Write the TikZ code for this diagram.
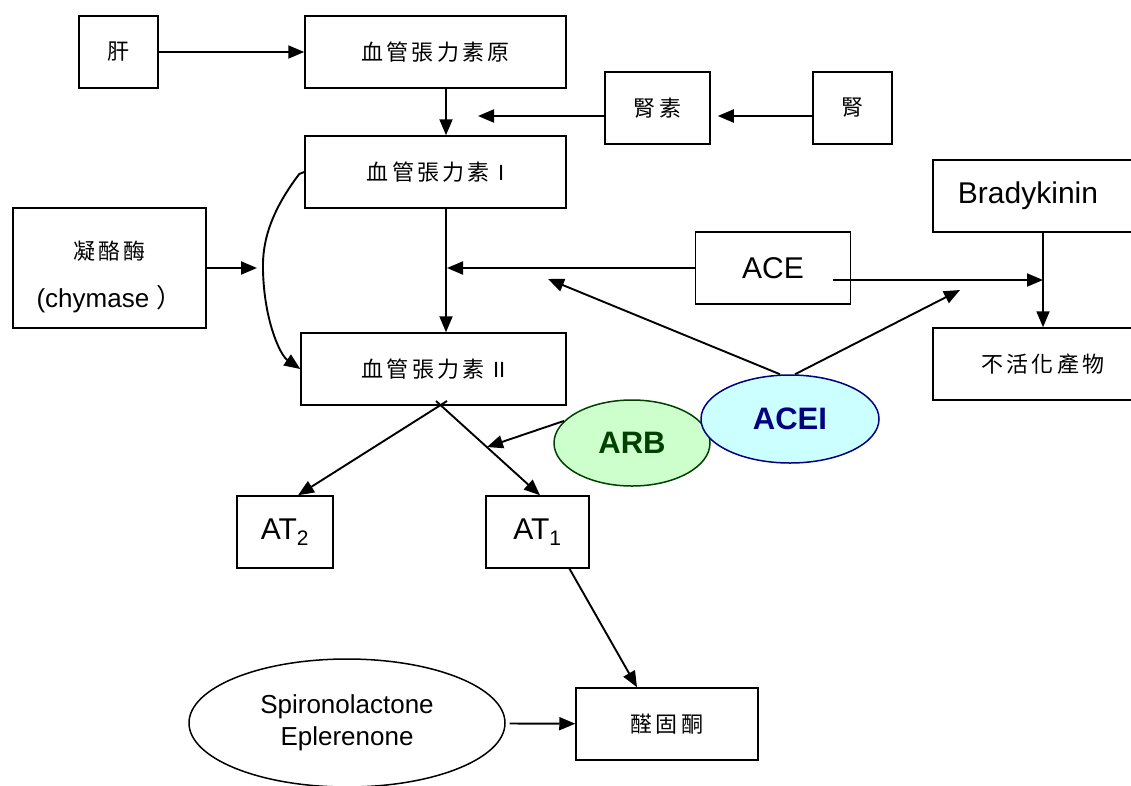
\documentclass[tikz,border=0pt]{standalone}
\usepackage{fontspec}
\setmainfont{Liberation Sans}
\newfontfamily\cjk[LetterSpace=15]{Noto Sans CJK TC}
\usetikzlibrary{shapes.geometric,arrows.meta,positioning}
\definecolor{ArbGreen}{RGB}{204,255,204}
\definecolor{ArbDark}{RGB}{0,64,0}
\definecolor{AceiCyan}{RGB}{204,255,255}
\definecolor{AceiNavy}{RGB}{0,0,128}

\begin{document}
\begin{tikzpicture}[x=1pt,y=-1pt,
    box/.style={rectangle,draw,line width=1.5pt,minimum height=72pt,inner sep=0pt},
    cjktext/.style={font=\cjk\fontsize{22}{26}\selectfont},
    latin/.style={font=\fontsize{30}{34}\selectfont},
    arr/.style={-{Triangle[length=16pt,width=13pt]},line width=1.9pt}]
    \useasboundingbox (0,0) rectangle (1131,785);

    \node[box,cjktext,minimum width=79pt] (liver) at (118.5,52) {肝};
    \node[box,cjktext,minimum width=261pt] (angen) at (435.5,52) {血管張力素原};
    \node[box,cjktext,minimum width=105pt] (renin) at (657.5,108) {腎素};
    \node[box,cjktext,minimum width=79pt] (kidney) at (852.5,108) {腎};
    \node[box,cjktext,minimum width=261pt] (ang1) at (435.5,172) {血管張力素 {\normalfont\fontsize{22}{26}\selectfont I}};
    \node[box,minimum width=193pt,minimum height=120pt,align=center,font=\fontsize{26}{48}\selectfont] (chymase) at (109.5,268)
        {\rule{0pt}{36pt}{\cjk\fontsize{22}{26}\selectfont 凝酪酶}\\(chymase {\cjk ）}};
    \node[box,cjktext,minimum width=265pt] (ang2) at (433.5,369) {血管張力素 {\normalfont\fontsize{22}{26}\selectfont II}};
    \node[box,latin,minimum width=155pt] (ace) at (773,268) {ACE};
    \node[box,latin,minimum width=220pt] (brady) at (1043,196) {Bradykinin\hspace*{30pt}};
    \node[box,cjktext,minimum width=220pt] (inactive) at (1043,364) {不活化產物};
    \node[box,latin,minimum width=96pt] (at2) at (285,532) {AT\textsubscript{2}};
    \node[box,latin,minimum width=103pt] (at1) at (537.5,532) {AT\textsubscript{1}};
    \node[box,cjktext,minimum width=182pt] (aldo) at (667,724) {醛固酮};
    \node[ellipse,draw,line width=1.5pt,minimum width=316pt,minimum height=128pt,inner sep=0pt,
          align=center,font=\fontsize{26}{32}\selectfont] (spiro) at (347,723) {Spironolactone\\Eplerenone};
    \node[ellipse,draw=ArbDark,fill=ArbGreen,line width=1.5pt,minimum width=156pt,minimum height=86pt,
          inner sep=0pt,text=ArbDark,font=\bfseries\fontsize{31}{35}\selectfont] (arb) at (632,443) {ARB};
    \node[ellipse,draw=AceiNavy,fill=AceiCyan,line width=1.5pt,minimum width=178pt,minimum height=88pt,
          inner sep=0pt,text=AceiNavy,font=\bfseries\fontsize{31}{35}\selectfont] (acei) at (790,419) {ACEI};

    \coordinate (reninend) at (478,116);
    \coordinate (chymend) at (257,268);
    \coordinate (acejoin) at (447,268);
    \coordinate (acestart) at (833,280);
    \coordinate (bkjoin) at (1043,280);
    \coordinate (aceiup) at (548,279);
    \coordinate (aceiright) at (960,290);
    \coordinate (arbend) at (487,447);
    \coordinate (splitA) at (447,401);
    \coordinate (splitB) at (436,401);

    \draw[arr] (liver) -- (angen);
    \draw[arr] ([xshift=10.5pt]angen.south) -- ([xshift=10.5pt]ang1.north);
    \draw[arr,shorten >=7pt] ([yshift=-8pt]kidney.west) -- ([yshift=-8pt]renin.east);
    \draw[arr] ([yshift=-8pt]renin.west) -- (reninend);
    \draw[arr] ([xshift=10.5pt]ang1.south) -- ([xshift=12.5pt]ang2.north);
    \draw[arr] (chymase) -- (chymend);
    \draw[arr] (ace) -- (acejoin);
    \draw[arr] (ang1.west) -- ++(-5,2) .. controls (272,210) and (262,240) .. (263,270)
        .. controls (264,320) and (280,355) .. (ang2.west);
    \draw[arr] (acestart) -- (bkjoin);
    \draw[arr] (brady) -- (inactive);
    \draw[arr] ([xshift=-10pt]acei.north) -- (aceiup);
    \draw[arr] ([xshift=5pt]acei.north) -- (aceiright);
    \draw[arr] (arb.162) -- (arbend);
    \draw[arr] (splitA) -- ([xshift=13pt]at2.north);
    \draw[arr] (splitB) -- ([xshift=2.5pt]at1.north);
    \draw[arr] ([xshift=32pt]at1.south) -- ([xshift=-30pt]aldo.north);
    \draw[arr,shorten <=4pt] (spiro) -- (aldo);
\end{tikzpicture}
\end{document}
